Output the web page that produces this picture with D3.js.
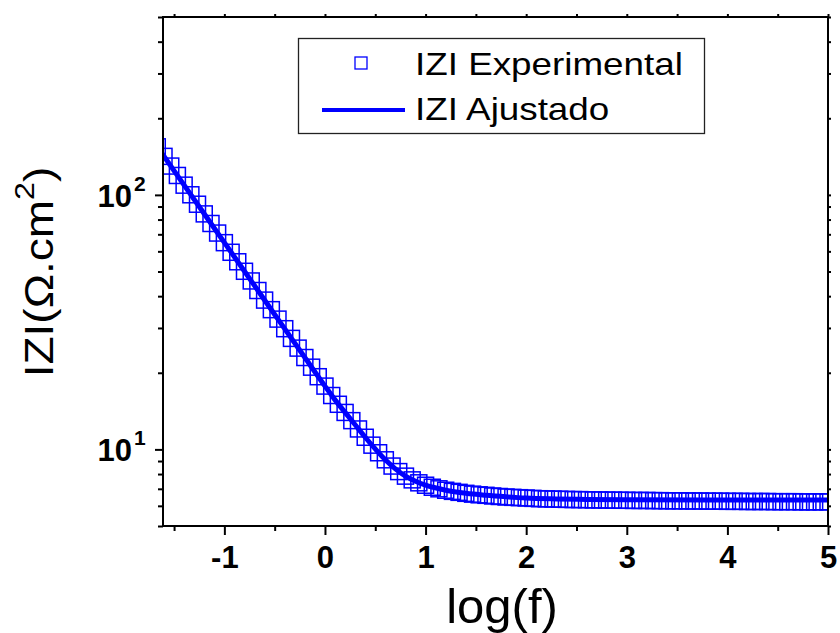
<!DOCTYPE html>
<html>
<head>
<meta charset="utf-8">
<script src="https://cdn.jsdelivr.net/npm/d3@7"></script>
<style>
  body { margin: 0; background: #fff; }
  text { font-family: "Liberation Sans", Arial, sans-serif; fill: #000; }
</style>
</head>
<body>
<div id="chart_box"></div>
<script>
// log(f) of each measured point (15 per decade)
const expLogF = [-1.667, -1.600, -1.533, -1.467, -1.400, -1.333, -1.267, -1.200, -1.133, -1.067,
  -1.000, -0.933, -0.867, -0.800, -0.733, -0.667, -0.600, -0.533, -0.467, -0.400,
  -0.333, -0.267, -0.200, -0.133, -0.067, 0.000, 0.067, 0.133, 0.200, 0.267,
  0.333, 0.400, 0.467, 0.533, 0.600, 0.667, 0.733, 0.800, 0.867, 0.933,
  1.000, 1.067, 1.133, 1.200, 1.267, 1.333, 1.400, 1.467, 1.533, 1.600,
  1.667, 1.733, 1.800, 1.867, 1.933, 2.000, 2.067, 2.133, 2.200, 2.267,
  2.333, 2.400, 2.467, 2.533, 2.600, 2.667, 2.733, 2.800, 2.867, 2.933,
  3.000, 3.067, 3.133, 3.200, 3.267, 3.333, 3.400, 3.467, 3.533, 3.600,
  3.667, 3.733, 3.800, 3.867, 3.933, 4.000, 4.067, 4.133, 4.200, 4.267,
  4.333, 4.400, 4.467, 4.533, 4.600, 4.667, 4.733, 4.800, 4.867, 4.933, 5.000]
// |Z| experimental, ohm.cm2
const expZ = [154.5, 141.7, 129.8, 119.2, 109.2, 100.1, 91.9, 84.2, 77.2, 70.8,
  64.9, 59.5, 54.6, 50.1, 45.9, 42.1, 38.6, 35.4, 32.5, 29.8,
  27.3, 25.0, 22.96, 21.04, 19.30, 17.73, 16.28, 15.04, 13.97, 12.97,
  12.03, 11.16, 10.39, 9.70, 9.10, 8.60, 8.18, 7.85, 7.59, 7.39,
  7.23, 7.10, 7.00, 6.91, 6.84, 6.78, 6.72, 6.67, 6.63, 6.60,
  6.56, 6.53, 6.50, 6.48, 6.46, 6.44, 6.42, 6.40, 6.39, 6.38,
  6.37, 6.36, 6.35, 6.35, 6.34, 6.33, 6.33, 6.32, 6.32, 6.31,
  6.31, 6.30, 6.30, 6.30, 6.29, 6.29, 6.28, 6.28, 6.28, 6.27,
  6.27, 6.27, 6.26, 6.26, 6.26, 6.25, 6.25, 6.25, 6.24, 6.24,
  6.24, 6.24, 6.23, 6.23, 6.23, 6.23, 6.22, 6.22, 6.22, 6.22, 6.22]

// fitted curve
const fitLogF = [-1.7, -1.4, -1.1, -0.8, -0.5, -0.2, 0.0, 0.1, 0.2, 0.3, 0.4, 0.5, 0.6, 0.7, 0.8, 0.9,
  1.0, 1.2, 1.4, 1.6, 1.8, 2.0, 2.3, 2.6, 3.0, 4.0, 5.1]
const fitZ = [161.4, 109.2, 73.96, 50.1, 33.9, 22.96, 17.73, 15.65, 13.97, 12.50, 11.16, 10.04, 9.10, 8.38, 7.85, 7.49,
  7.23, 6.91, 6.72, 6.60, 6.51, 6.44, 6.39, 6.36, 6.34, 6.33, 6.33]

const xMajorTicks = [-1, 0, 1, 2, 3, 4, 5]
const xMinorTicks = [-1.5, -0.5, 0.5, 1.5, 2.5, 3.5, 4.5]
const yMajorTicks = [10, 100]
const yMinorTicks = [5, 6, 7, 8, 9, 20, 30, 40, 50, 60, 70, 80, 90, 200, 300, 400, 500]
const legendNames = ["IZI Experimental", "IZI Ajustado"]

const chartWidth = 840
const chartHeight = 633
const plotLeft = 163, plotRight = 828, plotTop = 17, plotBottom = 526
const blue = "#0000ff"

const svg = d3.select("#chart_box").append("svg")
  .attr("width", chartWidth)
  .attr("height", chartHeight)

const x = d3.scaleLinear().domain([-1.61, 5]).range([plotLeft, plotRight])
const y = d3.scaleLog().domain([5, 500]).range([plotBottom, plotTop])

svg.append("clipPath").attr("id", "plot_clip")
  .append("rect")
  .attr("x", plotLeft).attr("y", plotTop)
  .attr("width", plotRight - plotLeft).attr("height", plotBottom - plotTop)

const dataLayer = svg.append("g").attr("clip-path", "url(#plot_clip)")

const markerSize = 16
dataLayer.selectAll("rect")
  .data(expLogF.map((f, i) => [f, expZ[i]]))
  .join("rect")
  .attr("x", d => x(d[0]) - markerSize / 2)
  .attr("y", d => y(d[1]) - markerSize / 2)
  .attr("width", markerSize)
  .attr("height", markerSize)
  .attr("fill", "none")
  .attr("stroke", blue)
  .attr("stroke-width", 1.5)

const fitLine = d3.line()
  .x(d => x(d[0]))
  .y(d => y(d[1]))
  .curve(d3.curveMonotoneX)

dataLayer.append("path")
  .attr("d", fitLine(fitLogF.map((f, i) => [f, fitZ[i]])))
  .attr("fill", "none")
  .attr("stroke", blue)
  .attr("stroke-width", 5)

// axes
function styleAxis(g) {
  g.select(".domain").remove()
  g.selectAll(".tick line").attr("stroke", "#000").attr("stroke-width", 2)
}

const bottomAxis = svg.append("g").attr("transform", `translate(0,${plotBottom})`)
bottomAxis.append("g").call(d3.axisBottom(x).tickValues(xMajorTicks).tickSize(9).tickFormat(d => String(d)))
  .call(styleAxis)
  .selectAll("text")
  .attr("dy", 0)
  .attr("y", 42)
  .attr("font-size", 31)
  .attr("font-weight", "bold")
  .attr("font-family", "Liberation Sans, Arial, sans-serif")
bottomAxis.append("g").call(d3.axisBottom(x).tickValues(xMinorTicks).tickSize(5).tickFormat(""))
  .call(styleAxis)

svg.append("g").attr("transform", `translate(0,${plotTop})`)
  .call(d3.axisTop(x).tickValues(xMajorTicks.concat(xMinorTicks)).tickSize(3).tickFormat(""))
  .call(styleAxis)

const leftAxis = svg.append("g").attr("transform", `translate(${plotLeft},0)`)
leftAxis.append("g").call(d3.axisLeft(y).tickValues(yMajorTicks).tickSize(8).tickFormat(""))
  .call(styleAxis)
leftAxis.append("g").call(d3.axisLeft(y).tickValues(yMinorTicks).tickSize(5).tickFormat(""))
  .call(styleAxis)

svg.append("g").attr("transform", `translate(${plotRight},0)`)
  .call(d3.axisRight(y).tickValues(yMajorTicks.concat(yMinorTicks)).tickSize(3).tickFormat(""))
  .call(styleAxis)

// y tick labels as 10^n
yMajorTicks.forEach(v => {
  svg.append("text")
    .attr("x", 132)
    .attr("y", y(v) + 12)
    .attr("text-anchor", "end")
    .attr("font-size", 31)
    .attr("font-weight", "bold")
    .text("10")
  svg.append("text")
    .attr("x", 134)
    .attr("y", y(v) - 4)
    .attr("font-size", 21)
    .attr("font-weight", "bold")
    .text(Math.round(Math.log10(v)))
})

// frame
svg.append("rect")
  .attr("x", plotLeft).attr("y", plotTop)
  .attr("width", plotRight - plotLeft).attr("height", plotBottom - plotTop)
  .attr("fill", "none")
  .attr("stroke", "#000")
  .attr("stroke-width", 2)

// axis titles
svg.append("text")
  .attr("x", 502)
  .attr("y", 623)
  .attr("text-anchor", "middle")
  .attr("font-size", 49)
  .text("log(f)")

const yTitle = svg.append("text")
  .attr("transform", "translate(53,272) rotate(-90) scale(1.15,1)")
  .attr("text-anchor", "middle")
  .attr("font-size", 40)
yTitle.append("tspan").text("IZI(\u03A9.cm")
yTitle.append("tspan").attr("font-size", 28).attr("dy", -19).text("2")
yTitle.append("tspan").attr("dy", 19).text(")")

// legend
const legend = svg.append("g")
legend.append("rect")
  .attr("x", 298.5).attr("y", 38.5)
  .attr("width", 406).attr("height", 95)
  .attr("fill", "#fff")
  .attr("stroke", "#222")
  .attr("stroke-width", 1.3)
legend.append("rect")
  .attr("x", 361 - 6).attr("y", 63 - 6)
  .attr("width", 12).attr("height", 12)
  .attr("fill", "none")
  .attr("stroke", blue)
  .attr("stroke-width", 1.3)
legend.append("line")
  .attr("x1", 322).attr("x2", 405)
  .attr("y1", 110).attr("y2", 110)
  .attr("stroke", blue)
  .attr("stroke-width", 4)
legend.selectAll("text.legend_label")
  .data(legendNames)
  .join("text")
  .attr("class", "legend_label")
  .attr("transform", (d, i) => `translate(415,${75 + i * 45}) scale(1.15,1)`)
  .attr("font-size", 32)
  .text(d => d)
</script>
</body>
</html>
